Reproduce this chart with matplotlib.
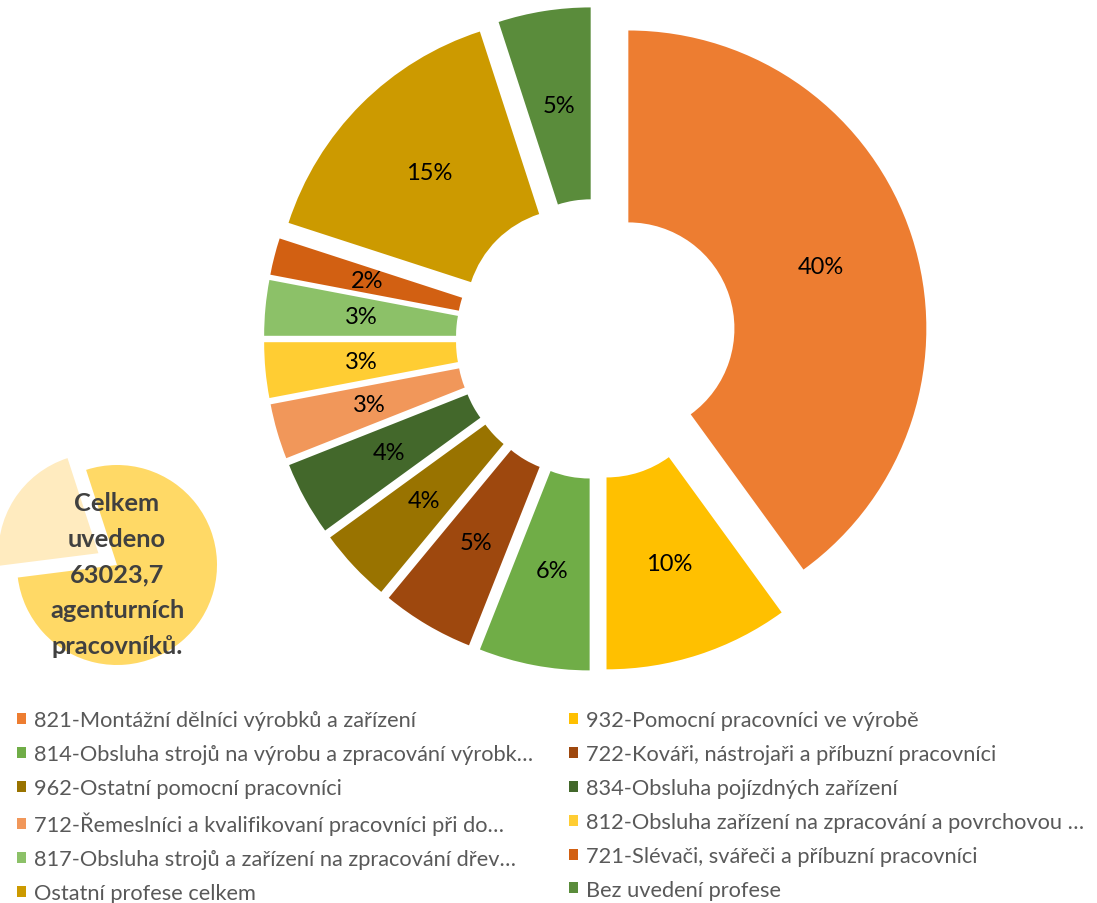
import matplotlib
matplotlib.use('Agg')
import matplotlib.pyplot as plt

plt.rcParams['font.family'] = ['Lato', 'DejaVu Sans']

# data (podíly v %)
labels = [
    '821-Montážní dělníci výrobků a zařízení',
    '932-Pomocní pracovníci ve výrobě',
    '814-Obsluha strojů na výrobu a zpracování výrobk…',
    '722-Kováři, nástrojaři a příbuzní pracovníci',
    '962-Ostatní pomocní pracovníci',
    '834-Obsluha pojízdných zařízení',
    '712-Řemeslníci a kvalifikovaní pracovníci při do…',
    '812-Obsluha zařízení na zpracování a povrchovou …',
    '817-Obsluha strojů a zařízení na zpracování dřev…',
    '721-Slévači, svářeči a příbuzní pracovníci',
    'Ostatní profese celkem',
    'Bez uvedení profese',
]
shares = [40, 10, 6, 5, 4, 4, 3, 3, 3, 2, 15, 5]
colors = ['#ED7D31', '#FFC000', '#70AD47', '#9E480E', '#997300', '#43682B',
          '#F1975A', '#FFCD33', '#8CC168', '#D26012', '#CC9A00', '#5A8C3B']

total_text = 'Celkem\nuvedeno\n63023,7\nagenturních\npracovníků.'
small_shares = [78, 22]
small_colors = ['#FFD966', '#FFEBBF']

W, H = 1097, 904
fig = plt.figure(figsize=(W / 100, H / 100), dpi=100)
ax = fig.add_axes([0, 0, 1, 1])

# hlavní prstencový graf
R = 298
wedges, texts, autotexts = ax.pie(
    shares, colors=colors, radius=R, center=(596, H - 340),
    startangle=90, counterclock=False,
    explode=[34] * len(shares),
    wedgeprops=dict(width=R * 0.644, edgecolor='none'),
    autopct='%.0f%%', pctdistance=0.678,
    textprops=dict(fontsize=17, color='black'))

# malý koláč vlevo dole
ax.pie(small_shares, colors=small_colors, radius=100, center=(117, H - 566),
       startangle=108, counterclock=False, explode=[0, 22],
       wedgeprops=dict(edgecolor='none'))
ax.text(117, H - 575, total_text, ha='center', va='center', fontsize=18.3,
        fontweight='bold', color='#404040', linespacing=1.66)

ax.set_xlim(0, W)
ax.set_ylim(0, H)
ax.set_aspect('equal')
ax.axis('off')

# legenda ve dvou sloupcích
for col, x0 in enumerate([17, 569]):
    idx = list(range(col, len(labels), 2))
    fig.legend([wedges[i] for i in idx], [labels[i] for i in idx],
               loc='upper left', bbox_to_anchor=(x0 / W, 1 - 711 / H),
               frameon=False, fontsize=15.7, labelcolor='#595959',
               handlelength=0.4, handleheight=0.4, handletextpad=0.4,
               labelspacing=0.64, borderpad=0, borderaxespad=0)

fig.savefig('out.png', dpi=100)
